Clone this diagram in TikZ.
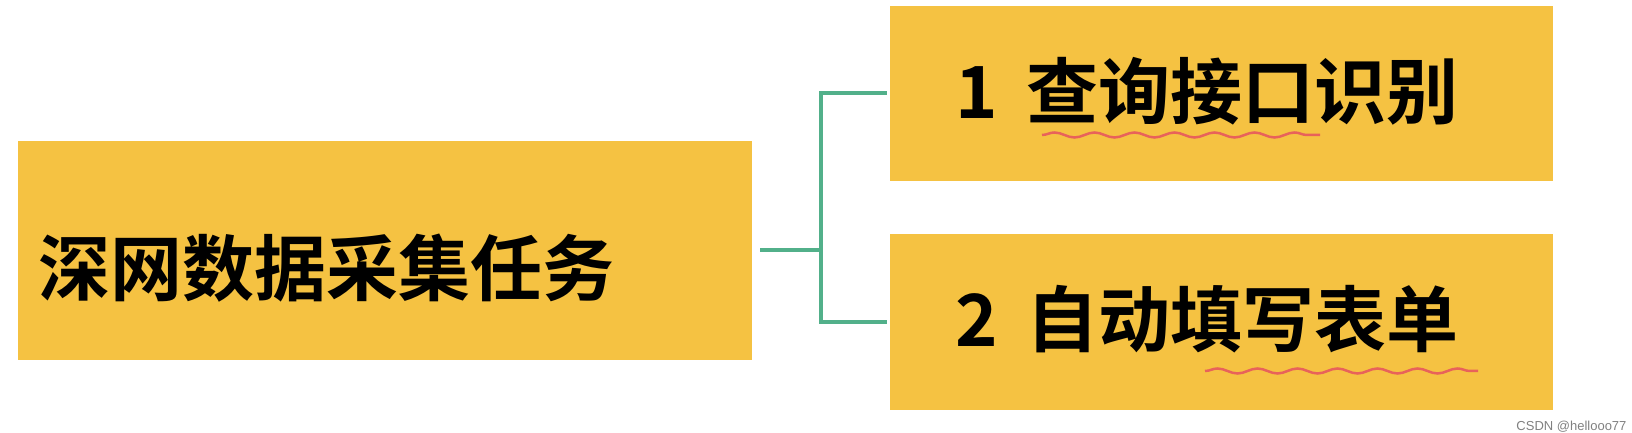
\documentclass[tikz,border=0pt]{standalone}
\usepackage{fontspec}
\newfontfamily\cjk{Noto Sans CJK SC Bold}
\usetikzlibrary{decorations.pathmorphing}
\definecolor{boxy}{HTML}{F5C242}
\definecolor{lineg}{HTML}{52B08A}
\definecolor{wavy}{HTML}{E8625A}
\tikzset{box/.style={fill=boxy,draw=none,inner sep=0pt},
 conn/.style={draw=lineg,line width=4.5pt},
 wav/.style={draw=wavy,line width=2.5pt,decorate,decoration={snake,amplitude=2.5pt,segment length=40pt}},
 lbl/.style={font=\cjk\fontsize{72}{72}\selectfont,anchor=west,inner sep=0pt}}
\begin{document}
\begin{tikzpicture}[x=1pt,y=1pt]
\useasboundingbox (0,0) rectangle (1632,433);
\node[box,minimum width=734pt,minimum height=219pt] (L) at (385,182.5) {};
\node[box,minimum width=663pt,minimum height=175pt] (A) at (1221.5,339.5) {};
\node[box,minimum width=663pt,minimum height=176pt] (B) at (1221.5,111) {};
\node[lbl] (lt) at (38,165) {深网数据采集任务};
\node[lbl] (at) at (955,342) {1\hspace{0.4em}查询接口识别};
\node[lbl] (bt) at (955,114) {2\hspace{0.4em}自动填写表单};
\coordinate (j1) at (760,183);
\coordinate (jm) at (821,183);
\coordinate (jt) at (821,340);
\coordinate (jb) at (821,111);
\coordinate (et) at (885,340);
\coordinate (eb) at (885,111);
\draw[conn] (j1) -- (jm);
\draw[conn,line cap=rect] (et) -- (jt) -- (jb) -- (eb);
\coordinate (w1) at (1042,298);
\coordinate (w2) at (1320,298);
\coordinate (w3) at (1205,62);
\coordinate (w4) at (1478,62);
\draw[wav] (w1) -- (w2);
\draw[wav] (w3) -- (w4);
\node[font=\fontspec{Liberation Sans}\fontsize{13}{13}\selectfont,text=gray,anchor=east] (wm) at (1630,6) {CSDN @hellooo77};
\end{tikzpicture}
\end{document}
